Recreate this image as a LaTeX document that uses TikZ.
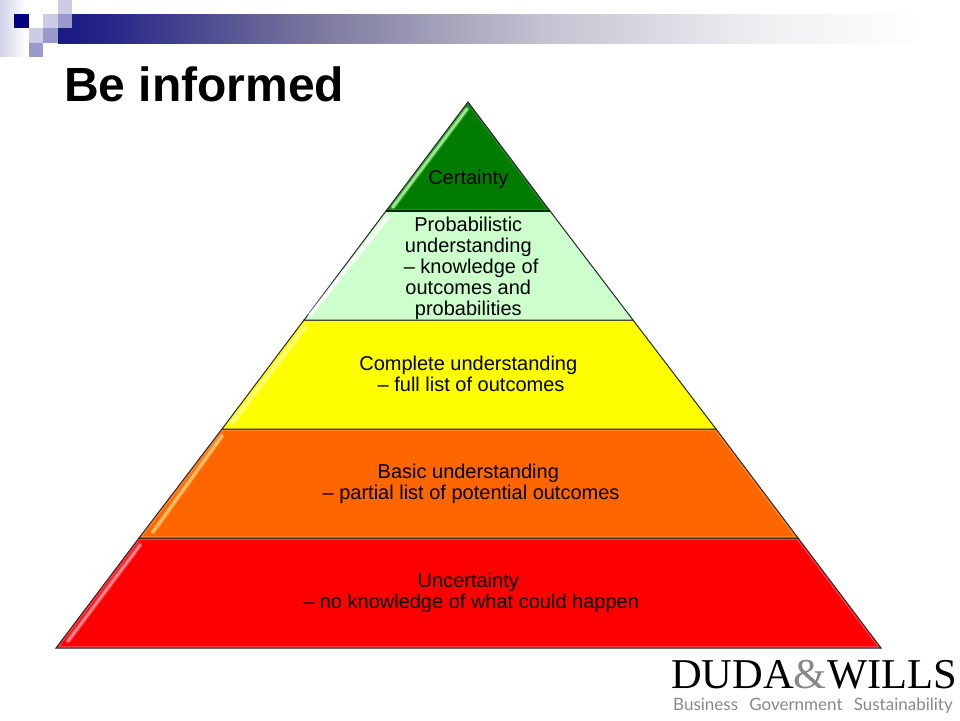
\documentclass[tikz,border=0pt]{standalone}
\usepackage{fontspec}
\setmainfont{Liberation Sans}
\newfontfamily\logoserif{Liberation Serif}
\newfontfamily\logosans{Lato}
\usetikzlibrary{calc}
\definecolor{navy}{RGB}{0,0,128}
\definecolor{lightsq}{RGB}{204,204,230}
\definecolor{midsq}{RGB}{153,153,204}
\definecolor{lav}{RGB}{208,208,232}
\definecolor{cgreen}{RGB}{0,125,0}
\definecolor{cmint}{RGB}{204,255,204}
\definecolor{cyellow}{RGB}{255,255,0}
\definecolor{corange}{RGB}{255,102,0}
\definecolor{cred}{RGB}{255,0,0}
\definecolor{logogray}{RGB}{135,135,135}
\definecolor{glgreen}{RGB}{150,235,140}
\definecolor{glyellow}{RGB}{255,255,140}
\definecolor{glorange}{RGB}{255,195,105}
\definecolor{glred}{RGB}{255,135,145}
\definecolor{bvgreen}{RGB}{45,135,45}
\definecolor{bvorange}{RGB}{255,140,50}
\definecolor{bvred}{RGB}{255,70,85}
\pgfdeclarehorizontalshading{bandsh}{100bp}{
  rgb(0bp)=(0.098,0.098,0.51);
  rgb(25bp)=(0.098,0.098,0.51);
  rgb(27.4bp)=(0.137,0.137,0.53);
  rgb(40.3bp)=(0.49,0.478,0.62);
  rgb(53.1bp)=(0.765,0.765,0.824);
  rgb(66bp)=(0.941,0.941,0.953);
  rgb(75bp)=(1,1,1);
  rgb(100bp)=(1,1,1)}
\tikzset{
  tier/.style={draw=black!85,line width=1pt,line join=miter},
  gloss/.style={line width=2.6pt,line cap=round},
  halo/.style={line width=5pt,line cap=round,opacity=0.35},
  lbl/.style={font=\fontsize{20}{21}\selectfont,text=black,align=center,inner sep=0pt},
}
% fill, bevel colour, path
\newcommand{\tierpart}[3]{%
  \fill[#1] #3;
  \begin{scope}\clip #3; \draw[#2,line width=4pt,opacity=0.8] #3; \end{scope}
  \draw[tier] #3;}
\begin{document}
\begin{tikzpicture}[x=1pt,y=-1pt]
\useasboundingbox (0,0) rectangle (960,720);
% header
\shade[left color=lav,right color=white] (0,0) rectangle (25,56);
\shade[shading=bandsh] (58,14) rectangle (922,43);
\fill[white] (25,14) rectangle (58,43);
\fill[navy] (14,14) rectangle (29,28);
\fill[lightsq] (43,14) rectangle (58,28);
\fill[lightsq] (58,0) rectangle (72,14);
\fill[midsq] (58,14) rectangle (72,28);
\fill[lightsq] (29,28) rectangle (43,43);
\fill[midsq] (43,28) rectangle (58,43);
\fill[midsq] (29,43) rectangle (43,57);
\node[anchor=base west,inner sep=0pt,font=\fontsize{48}{50}\selectfont\bfseries] (title) at (64,101) {Be informed};
% pyramid
\coordinate (apex) at (468,102);
\coordinate (l1) at (386,211); \coordinate (r1) at (550,211);
\coordinate (l2) at (304,320); \coordinate (r2) at (633,320);
\coordinate (l3) at (222,429); \coordinate (r3) at (716,429);
\coordinate (l4) at (139,538); \coordinate (r4) at (798,538);
\coordinate (l5) at (56,648);  \coordinate (r5) at (881,648);
\tierpart{cred}{bvred}{(l4) -- (r4) -- (r5) -- (l5) -- cycle}
\tierpart{corange}{bvorange}{(l3) -- (r3) -- (r4) -- (l4) -- cycle}
\tierpart{cyellow}{cyellow}{(l2) -- (r2) -- (r3) -- (l3) -- cycle}
\tierpart{cmint}{cmint}{(l1) -- (r1) -- (r2) -- (l2) -- cycle}
\tierpart{cgreen}{bvgreen}{(apex) -- (r1) -- (l1) -- cycle}
\draw[black!70!cgreen,line width=1.6pt] (l1) -- (r1);
% gloss
\draw[halo,glgreen] (467,109) -- (393,207);
\draw[gloss,glgreen] (467,109) -- (393,207);
\draw[halo,white] (388,217) -- (310,315);
\draw[gloss,white] (388,217) -- (310,315);
\draw[halo,glyellow] (305,327) -- (232,423);
\draw[gloss,glyellow] (305,327) -- (232,423);
\draw[halo,glorange] (222,436) -- (153,532);
\draw[gloss,glorange] (222,436) -- (153,532);
\draw[halo,glred] (140,545) -- (68,641);
\draw[gloss,glred] (140,545) -- (68,641);
% labels
\node[lbl] (t1) at (468.3,179.5) {Certainty};
\node[lbl] (t2) at (468.3,268) {Probabilistic\\[0pt]understanding\\[0pt]\ – knowledge of\\[0pt]outcomes and\\[0pt]probabilities};
\node[lbl] (t3) at (468.3,373.5) {Complete understanding\\[0pt]\ – full list of outcomes};
\node[lbl] (t4) at (468.3,483.5) {Basic understanding\\[0pt]\ – partial list of potential outcomes};
\node[lbl] (t5) at (468.3,592.5) {Uncertainty\\[0pt]\ – no knowledge of what could happen};
% logo
\node[anchor=base west,inner sep=0pt,font=\logoserif\fontsize{42.5}{44}\selectfont] (logo) at (671,688) {DUDA{\color{logogray}\&}WILLS};
\node[anchor=base west,inner sep=0pt,font=\logosans\fontsize{17}{20}\selectfont,text=logogray] (tag) at (673,710) {Business\hspace{0.4em} Government\hspace{0.4em} Sustainability};
\end{tikzpicture}
\end{document}
